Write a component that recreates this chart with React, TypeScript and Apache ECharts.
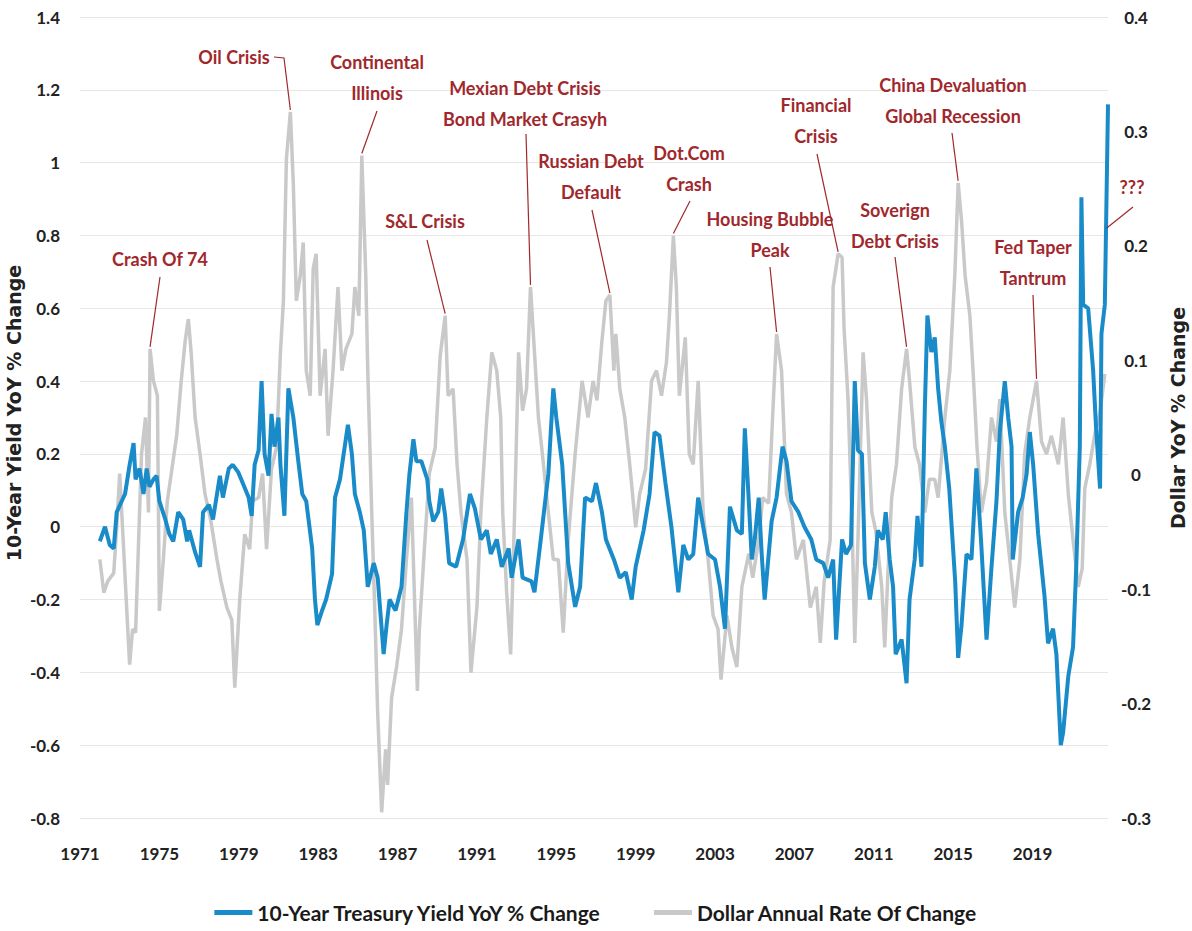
import React, { useEffect, useRef } from 'react';
import * as echarts from 'echarts';

// ---------- data ----------
const BASE_YEAR = 1971;
const LAST_YEAR = 2022.8;
const YEAR_LABEL_STEP = 4;

const SERIES_TREASURY = '10-Year Treasury Yield YoY % Change';
const SERIES_DOLLAR = 'Dollar Annual Rate Of Change';

// [year, value] – 10-Year Treasury Yield YoY % change (left axis)
const treasury: [number, number][] = [
  [1972.0, -0.04], [1972.26, 0.0], [1972.5, -0.05], [1972.7, -0.06], [1972.85, 0.04], [1973.1, 0.07],
  [1973.27, 0.09], [1973.5, 0.17], [1973.7, 0.23], [1973.8, 0.13], [1974.0, 0.16], [1974.2, 0.09],
  [1974.36, 0.16], [1974.5, 0.11], [1974.7, 0.13], [1974.86, 0.14], [1975.0, 0.07], [1975.3, 0.02],
  [1975.5, -0.02], [1975.7, -0.04], [1975.95, 0.04], [1976.2, 0.02], [1976.4, -0.04], [1976.5, -0.01],
  [1976.8, -0.07], [1977.05, -0.11], [1977.2, 0.04], [1977.5, 0.06], [1977.7, 0.02], [1978.05, 0.14],
  [1978.2, 0.08], [1978.5, 0.16], [1978.7, 0.17], [1978.97, 0.15], [1979.2, 0.12], [1979.5, 0.08],
  [1979.65, 0.03], [1979.8, 0.17], [1980.0, 0.21], [1980.15, 0.4], [1980.3, 0.2], [1980.5, 0.14],
  [1980.65, 0.31], [1980.8, 0.22], [1981.0, 0.3], [1981.1, 0.17], [1981.3, 0.03], [1981.5, 0.38],
  [1981.75, 0.3], [1982.0, 0.18], [1982.2, 0.09], [1982.4, 0.07], [1982.7, -0.06], [1982.84, -0.2],
  [1982.96, -0.27], [1983.2, -0.23], [1983.4, -0.2], [1983.7, -0.13], [1983.85, 0.08], [1984.1, 0.13],
  [1984.5, 0.28], [1984.7, 0.2], [1984.85, 0.09], [1985.1, 0.04], [1985.3, -0.01], [1985.5, -0.165],
  [1985.8, -0.1], [1986.0, -0.14], [1986.3, -0.35], [1986.45, -0.27], [1986.6, -0.2], [1986.9, -0.23],
  [1987.2, -0.165], [1987.45, 0.04], [1987.6, 0.145], [1987.8, 0.24], [1987.95, 0.18], [1988.2, 0.18],
  [1988.5, 0.13], [1988.6, 0.07], [1988.8, 0.015], [1989.05, 0.04], [1989.2, 0.105], [1989.4, 0.03],
  [1989.6, -0.1], [1989.95, -0.11], [1990.3, -0.035], [1990.65, 0.09], [1990.9, 0.05], [1991.2, -0.035],
  [1991.5, -0.01], [1991.7, -0.075], [1992.0, -0.035], [1992.25, -0.11], [1992.6, -0.06], [1992.75, -0.14],
  [1993.1, -0.035], [1993.3, -0.14], [1993.75, -0.15], [1993.9, -0.18], [1994.25, -0.02], [1994.6, 0.145],
  [1994.85, 0.38], [1995.0, 0.3], [1995.3, 0.17], [1995.6, -0.1], [1995.95, -0.22], [1996.2, -0.165],
  [1996.45, 0.08], [1996.8, 0.07], [1997.0, 0.12], [1997.3, 0.04], [1997.5, -0.035], [1997.9, -0.09],
  [1998.2, -0.14], [1998.5, -0.125], [1998.8, -0.2], [1999.0, -0.11], [1999.4, -0.01], [1999.7, 0.09],
  [1999.95, 0.26], [2000.2, 0.25], [2000.5, 0.12], [2000.8, 0.0], [2001.15, -0.18], [2001.4, -0.05],
  [2001.65, -0.09], [2001.9, -0.075], [2002.15, 0.08], [2002.4, 0.0], [2002.65, -0.075], [2003.0, -0.09],
  [2003.25, -0.165], [2003.5, -0.28], [2003.75, 0.055], [2004.1, -0.01], [2004.35, -0.02], [2004.5, 0.27],
  [2004.7, 0.07], [2004.85, -0.09], [2005.0, -0.035], [2005.2, 0.08], [2005.35, -0.075], [2005.5, -0.2],
  [2005.85, 0.015], [2006.1, 0.08], [2006.4, 0.22], [2006.6, 0.18], [2006.85, 0.07], [2007.2, 0.04],
  [2007.5, 0.0], [2007.85, -0.035], [2008.1, -0.09], [2008.45, -0.1], [2008.7, -0.14], [2008.95, -0.09],
  [2009.1, -0.31], [2009.4, -0.035], [2009.6, -0.075], [2009.85, -0.05], [2010.04, 0.4], [2010.2, 0.21],
  [2010.4, 0.2], [2010.55, -0.1], [2010.8, -0.2], [2011.05, -0.11], [2011.2, -0.01], [2011.45, -0.035],
  [2011.6, 0.04], [2011.8, -0.09], [2011.97, -0.165], [2012.1, -0.35], [2012.4, -0.31], [2012.65, -0.43],
  [2012.8, -0.2], [2013.06, -0.09], [2013.2, 0.03], [2013.4, -0.11], [2013.57, 0.325], [2013.7, 0.58],
  [2013.9, 0.48], [2014.07, 0.52], [2014.24, 0.38], [2014.4, 0.29], [2014.58, 0.22], [2014.8, 0.105],
  [2015.1, -0.15], [2015.25, -0.36], [2015.42, -0.27], [2015.67, -0.075], [2015.92, -0.09], [2016.17, 0.16],
  [2016.4, -0.035], [2016.68, -0.31], [2016.93, -0.11], [2017.18, 0.07], [2017.35, 0.26], [2017.6, 0.4],
  [2017.77, 0.3], [2017.94, 0.22], [2018.0, -0.09], [2018.27, 0.04], [2018.5, 0.08], [2018.7, 0.145],
  [2018.86, 0.26], [2019.03, 0.17], [2019.28, -0.02], [2019.6, -0.19], [2019.78, -0.32], [2020.03, -0.28],
  [2020.2, -0.35], [2020.42, -0.6], [2020.54, -0.565], [2020.8, -0.41], [2021.04, -0.33], [2021.2, -0.11],
  [2021.38, 0.22], [2021.46, 0.905], [2021.55, 0.61], [2021.8, 0.6], [2022.05, 0.43], [2022.2, 0.27],
  [2022.4, 0.105], [2022.47, 0.53], [2022.64, 0.61], [2022.8, 1.16],
];

// [year, value] – Dollar annual rate of change (right axis)
const dollar: [number, number][] = [
  [1972.0, -0.074], [1972.2, -0.103], [1972.4, -0.093], [1972.7, -0.086], [1972.85, -0.046], [1973.0, 0.001],
  [1973.2, -0.065], [1973.35, -0.116], [1973.5, -0.166], [1973.65, -0.135], [1973.8, -0.138], [1974.0, -0.033],
  [1974.1, 0.018], [1974.3, 0.05], [1974.45, -0.033], [1974.53, 0.11], [1974.7, 0.082], [1974.9, 0.069],
  [1975.0, -0.119], [1975.2, -0.074], [1975.4, -0.023], [1975.6, 0.001], [1975.87, 0.034], [1976.1, 0.082],
  [1976.3, 0.117], [1976.46, 0.136], [1976.6, 0.107], [1976.8, 0.05], [1977.05, 0.018], [1977.3, -0.017],
  [1977.6, -0.041], [1977.9, -0.074], [1978.1, -0.093], [1978.4, -0.116], [1978.65, -0.127], [1978.8, -0.186],
  [1979.05, -0.109], [1979.3, -0.052], [1979.55, -0.065], [1979.7, -0.023], [1980.0, -0.02], [1980.2, 0.001],
  [1980.4, -0.065], [1980.65, 0.005], [1980.9, 0.024], [1981.1, 0.107], [1981.25, 0.152], [1981.4, 0.276],
  [1981.6, 0.317], [1981.75, 0.254], [1981.9, 0.152], [1982.1, 0.174], [1982.25, 0.203], [1982.4, 0.091],
  [1982.6, 0.069], [1982.75, 0.18], [1982.9, 0.193], [1983.1, 0.069], [1983.35, 0.11], [1983.5, 0.034],
  [1983.75, 0.091], [1984.0, 0.164], [1984.2, 0.091], [1984.4, 0.11], [1984.7, 0.123], [1984.85, 0.164],
  [1985.05, 0.139], [1985.2, 0.279], [1985.4, 0.174], [1985.5, 0.091], [1985.7, -0.033], [1985.85, -0.116],
  [1986.0, -0.208], [1986.2, -0.295], [1986.4, -0.24], [1986.5, -0.271], [1986.7, -0.195], [1986.95, -0.168],
  [1987.2, -0.135], [1987.45, -0.074], [1987.7, -0.02], [1988.0, -0.189], [1988.1, -0.135], [1988.4, -0.052],
  [1988.6, 0.001], [1988.9, 0.024], [1989.15, 0.104], [1989.4, 0.139], [1989.55, 0.069], [1989.8, 0.075],
  [1990.0, 0.009], [1990.2, -0.033], [1990.5, -0.074], [1990.7, -0.173], [1991.0, -0.116], [1991.2, -0.033],
  [1991.5, 0.05], [1991.75, 0.107], [1992.0, 0.091], [1992.2, 0.05], [1992.3, -0.033], [1992.5, -0.103],
  [1992.7, -0.157], [1992.9, -0.033], [1993.1, 0.107], [1993.3, 0.056], [1993.5, 0.075], [1993.7, 0.164],
  [1993.9, 0.107], [1994.1, 0.05], [1994.3, 0.018], [1994.6, -0.033], [1994.85, -0.074], [1995.1, -0.074],
  [1995.35, -0.138], [1995.6, -0.057], [1995.95, 0.018], [1996.3, 0.082], [1996.6, 0.05], [1996.85, 0.082],
  [1997.05, 0.065], [1997.3, 0.117], [1997.5, 0.152], [1997.7, 0.157], [1997.9, 0.091], [1998.0, 0.123],
  [1998.2, 0.075], [1998.45, 0.05], [1998.7, 0.009], [1999.0, -0.046], [1999.2, -0.017], [1999.5, 0.005],
  [1999.8, 0.082], [2000.05, 0.091], [2000.3, 0.069], [2000.55, 0.098], [2000.7, 0.139], [2000.9, 0.209],
  [2001.05, 0.164], [2001.2, 0.069], [2001.5, 0.12], [2001.7, 0.018], [2001.9, 0.009], [2002.15, 0.082],
  [2002.4, -0.033], [2002.65, -0.074], [2002.9, -0.123], [2003.15, -0.135], [2003.3, -0.179], [2003.6, -0.123],
  [2003.85, -0.151], [2004.1, -0.168], [2004.35, -0.098], [2004.7, -0.069], [2004.9, -0.09], [2005.2, -0.057],
  [2005.4, -0.02], [2005.7, -0.025], [2005.95, 0.069], [2006.1, 0.123], [2006.35, 0.091], [2006.6, -0.017],
  [2006.85, -0.033], [2007.1, -0.074], [2007.45, -0.057], [2007.8, -0.116], [2008.1, -0.098], [2008.3, -0.147],
  [2008.5, -0.093], [2008.8, -0.057], [2008.95, 0.164], [2009.2, 0.193], [2009.4, 0.19], [2009.5, 0.128],
  [2009.7, 0.066], [2009.9, -0.04], [2010.04, -0.147], [2010.2, -0.057], [2010.46, 0.107], [2010.63, 0.066],
  [2010.9, -0.033], [2011.1, -0.049], [2011.4, -0.098], [2011.55, -0.151], [2011.7, -0.09], [2011.9, -0.02],
  [2012.14, 0.009], [2012.4, 0.075], [2012.65, 0.11], [2012.8, 0.082], [2013.07, 0.024], [2013.3, 0.009],
  [2013.57, -0.033], [2013.8, -0.004], [2014.07, -0.004], [2014.24, -0.02], [2014.58, 0.05], [2014.83, 0.091],
  [2015.08, 0.174], [2015.25, 0.255], [2015.42, 0.222], [2015.6, 0.174], [2015.84, 0.139], [2016.0, 0.091],
  [2016.2, 0.024], [2016.42, -0.033], [2016.68, -0.007], [2016.93, 0.05], [2017.18, 0.029], [2017.35, 0.066],
  [2017.6, -0.033], [2017.85, -0.074], [2018.1, -0.116], [2018.36, -0.074], [2018.6, 0.018], [2018.86, 0.05],
  [2019.2, 0.082], [2019.45, 0.029], [2019.7, 0.018], [2019.95, 0.034], [2020.3, 0.009], [2020.54, 0.05],
  [2020.8, -0.017], [2021.04, -0.057], [2021.3, -0.098], [2021.5, -0.082], [2021.63, -0.012], [2021.88, 0.009],
  [2022.13, 0.035], [2022.4, 0.055], [2022.64, 0.088],
];

// annotations: text and the year of the dollar peak they point at
const annotationTexts = [
  'Crash Of 74', 'Oil Crisis', 'Continental\nIllinois', 'S&L Crisis', 'Mexian Debt Crisis\nBond Market Crasyh',
  'Russian Debt\nDefault', 'Dot.Com\nCrash', 'Housing Bubble\nPeak', 'Financial\nCrisis', 'Soverign\nDebt Crisis',
  'China Devaluation\nGlobal Recession', 'Fed Taper\nTantrum', '???',
];
const annotationYears = [1974.53, 1981.6, 1985.2, 1989.4, 1993.7, 1997.7, 2000.9, 2006.1, 2009.2, 2012.65, 2015.25, 2019.2, 2022.72];
// the last annotation ("???") points at the treasury line
const questionTargetValue = 0.82;

const LEFT_TITLE = '10-Year Yield YoY % Change';
const RIGHT_TITLE = 'Dollar YoY % Change';

// ---------- layout ----------
const FONT = "Lato, 'Liberation Sans', sans-serif";
const TITLE_FONT = "'DejaVu Sans', Verdana, sans-serif";
const RED = '#A0282D';
const BLUE = '#1A8BC9';
const GRAY = '#C9C9C9';

// text centre and leader start points (pixels)
const annotationLayout: { cx: number; cy: number; from: number[][] }[] = [
  { cx: 160, cy: 259, from: [[160, 277]] },
  { cx: 234, cy: 57, from: [[274, 57], [284, 58]] },
  { cx: 377, cy: 77, from: [[377, 111]] },
  { cx: 425, cy: 221, from: [[427, 240]] },
  { cx: 525, cy: 103, from: [[526, 134]] },
  { cx: 591, cy: 176, from: [[592, 210]] },
  { cx: 689, cy: 168, from: [[690, 201]] },
  { cx: 770, cy: 234, from: [[770, 267]] },
  { cx: 816, cy: 120, from: [[817, 154]] },
  { cx: 895, cy: 225, from: [[895, 257]] },
  { cx: 953, cy: 100, from: [[952, 133]] },
  { cx: 1033, cy: 262, from: [[1033, 295]] },
  { cx: 1132, cy: 187, from: [[1133, 207]] },
];

function peakNear(points: [number, number][], year: number): [number, number] {
  let best: [number, number] = points[0];
  let bestVal = -Infinity;
  for (const p of points) {
    if (Math.abs(p[0] - year) <= 0.2 && p[1] > bestVal) {
      bestVal = p[1];
      best = p;
    }
  }
  return best;
}

export default function App() {
  const ref = useRef<HTMLDivElement>(null);

  useEffect(() => {
    if (!ref.current) return;
    const chart = echarts.init(ref.current, null, { renderer: 'svg' });

    const labelStyle = { fontSize: 17, fontWeight: 'bold' as const, fontFamily: FONT, color: '#222' };

    chart.setOption({
      animation: false,
      backgroundColor: '#ffffff',
      grid: { left: 80, right: 84, top: 17, bottom: 113, containLabel: false },
      xAxis: {
        type: 'value',
        min: 0,
        max: LAST_YEAR - BASE_YEAR,
        interval: YEAR_LABEL_STEP,
        axisLine: { show: false },
        axisTick: { show: false },
        splitLine: { show: false },
        axisLabel: {
          ...labelStyle,
          margin: 27,
          formatter: (v: number) => (Math.abs(v % YEAR_LABEL_STEP) < 1e-6 ? String(BASE_YEAR + Math.round(v)) : ''),
        },
      },
      yAxis: [
        {
          type: 'value',
          position: 'left',
          min: -0.8,
          max: 1.4,
          interval: 0.2,
          axisLine: { show: false },
          axisTick: { show: false },
          splitLine: { show: true, lineStyle: { color: '#e7e7e7', width: 1 } },
          axisLabel: { ...labelStyle, margin: 20 },
        },
        {
          type: 'value',
          position: 'right',
          min: -0.3,
          max: 0.4,
          interval: 0.1,
          axisLine: { show: false },
          axisTick: { show: false },
          splitLine: { show: false },
          axisLabel: { ...labelStyle, margin: 28, align: 'center' },
        },
      ],
      legend: {
        data: [SERIES_TREASURY, SERIES_DOLLAR],
        left: 'center',
        top: 897,
        icon: 'rect',
        itemWidth: 38,
        itemHeight: 5,
        itemGap: 50,
        textStyle: { fontSize: 21, fontWeight: 'bold', fontFamily: FONT, color: '#1a1a1a' },
      },
      series: [
        {
          name: SERIES_DOLLAR,
          type: 'line',
          yAxisIndex: 1,
          symbol: 'none',
          data: dollar.map(([y, v]) => [y - BASE_YEAR, v]),
          lineStyle: { color: GRAY, width: 3.5 },
          itemStyle: { color: GRAY },
          z: 2,
        },
        {
          name: SERIES_TREASURY,
          type: 'line',
          yAxisIndex: 0,
          symbol: 'none',
          data: treasury.map(([y, v]) => [y - BASE_YEAR, v]),
          lineStyle: { color: BLUE, width: 4 },
          itemStyle: { color: BLUE },
          z: 3,
        },
      ],
    });

    const graphics: any[] = [
      {
        type: 'text',
        x: 14,
        y: 413,
        rotation: Math.PI / 2,
        style: {
          text: LEFT_TITLE,
          align: 'center',
          verticalAlign: 'middle',
          fontSize: 19,
          fontWeight: 'bold',
          fontFamily: TITLE_FONT,
          fill: '#222',
        },
      },
      {
        type: 'text',
        x: 1178,
        y: 418,
        rotation: Math.PI / 2,
        style: {
          text: RIGHT_TITLE,
          align: 'center',
          verticalAlign: 'middle',
          fontSize: 19,
          fontWeight: 'bold',
          fontFamily: TITLE_FONT,
          fill: '#222',
        },
      },
    ];

    annotationTexts.forEach((text, i) => {
      const lay = annotationLayout[i];
      let end: number[];
      if (i === annotationTexts.length - 1) {
        end = chart.convertToPixel({ xAxisIndex: 0, yAxisIndex: 0 }, [annotationYears[i] - BASE_YEAR, questionTargetValue]) as number[];
      } else {
        const pk = peakNear(dollar, annotationYears[i]);
        end = chart.convertToPixel({ xAxisIndex: 0, yAxisIndex: 1 }, [pk[0] - BASE_YEAR, pk[1]]) as number[];
        end = [end[0], end[1] - 2];
      }
      graphics.push({
        type: 'polyline',
        silent: true,
        shape: { points: [...lay.from, end] },
        style: { stroke: RED, lineWidth: 1.2, fill: null },
        z: 10,
      });
      graphics.push({
        type: 'text',
        x: lay.cx,
        y: lay.cy,
        silent: true,
        style: {
          text,
          align: 'center',
          verticalAlign: 'middle',
          fontSize: 18,
          fontWeight: 'bold',
          fontFamily: FONT,
          lineHeight: 31,
          fill: RED,
        },
        z: 10,
      });
    });

    chart.setOption({ graphic: graphics });

    return () => {
      chart.dispose();
    };
  }, []);

  return (
    <div
      ref={ref}
      style={{ position: 'absolute', left: 0, top: 0, width: 1192, height: 931, background: '#fff' }}
    />
  );
}
